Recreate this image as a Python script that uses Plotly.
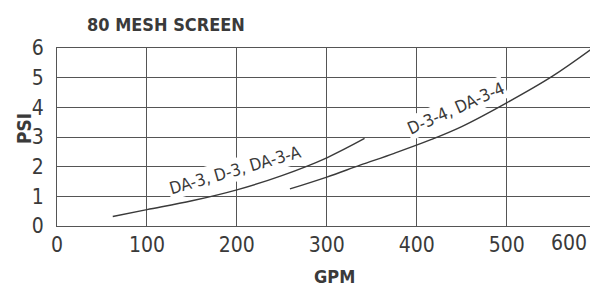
import plotly.graph_objects as go

# data
gpm_a = [62, 100, 150, 200, 250, 300, 342]
psi_a = [0.32, 0.55, 0.85, 1.22, 1.7, 2.3, 2.95]
gpm_b = [259, 300, 337, 375, 415, 450, 500, 551, 596]
psi_b = [1.25, 1.65, 2.05, 2.45, 2.9, 3.35, 4.15, 5.05, 6.0]
x_ticks = [0, 100, 200, 300, 400, 500, 600]
y_ticks = [0, 1, 2, 3, 4, 5, 6]
label_a = "DA-3, D-3, DA-3-A"
label_b = "D-3-4, DA-3-4"

FONT = "DejaVu Sans Condensed, Liberation Sans Narrow, Arial Narrow, sans-serif"
INK = "#3a3a3a"
GRID = "#555555"

# page has an 8px body margin: figure is 590x278, plot area 57..593 x 48..226 in page pixels
PW = 593 - 57
PH = 226 - 48

fig = go.Figure()
fig.add_trace(go.Scatter(x=gpm_a, y=psi_a, mode="lines", line=dict(color=INK, width=1.4, shape="spline"),
                         showlegend=False, hoverinfo="skip"))
fig.add_trace(go.Scatter(x=gpm_b, y=psi_b, mode="lines", line=dict(color=INK, width=1.4, shape="spline"),
                         showlegend=False, hoverinfo="skip"))

fig.add_annotation(x=198, y=1.9, text=label_a, showarrow=False, textangle=-16,
                   font=dict(family=FONT, size=17, color=INK), bgcolor="white")
fig.add_annotation(x=444, y=3.97, text=label_b, showarrow=False, textangle=-24,
                   font=dict(family=FONT, size=17, color=INK), bgcolor="white")

# title
fig.add_annotation(x=(166 - 57) / PW, xref="x domain", xanchor="center", y=1.0, yref="y domain",
                   yanchor="middle", yshift=24,
                   text="<b>80 MESH SCREEN</b>", showarrow=False,
                   font=dict(family=FONT, size=18, color=INK))
# axis titles
fig.add_annotation(x=(334 - 57) / PW, xref="x domain", xanchor="center", y=0, yref="y domain",
                   yanchor="middle", yshift=-50,
                   text="<b>GPM</b>", showarrow=False, font=dict(family=FONT, size=18, color=INK))
fig.add_annotation(x=0, xref="x domain", xanchor="center", xshift=-33, y=(226 - 129) / PH, yref="y domain",
                   yanchor="middle",
                   text="<b>PSI</b>", textangle=-90, showarrow=False, font=dict(family=FONT, size=19, color=INK))
# last tick label (at the right edge)
fig.add_annotation(x=1.0, xref="x domain", xanchor="right", xshift=-4, y=0, yref="y domain",
                   yanchor="top", yshift=-3,
                   text=str(x_ticks[-1]), showarrow=False, font=dict(family=FONT, size=21, color=INK))

fig.update_layout(
    width=590, height=278,
    margin=dict(l=49, r=5, t=40, b=60, autoexpand=False),
    paper_bgcolor="white", plot_bgcolor="white",
    font=dict(family=FONT, color=INK),
    xaxis=dict(range=[0, 596], tickvals=x_ticks[:-1], ticktext=[str(v) for v in x_ticks[:-1]],
               showgrid=True, gridcolor=GRID, gridwidth=1, zeroline=False, automargin=False,
               showline=True, linecolor=GRID, linewidth=1.2, mirror=True,
               tickfont=dict(family=FONT, size=21, color=INK), ticks=""),
    yaxis=dict(range=[0, 6], tickvals=y_ticks, ticktext=[str(v) for v in y_ticks],
               showgrid=True, gridcolor=GRID, gridwidth=1.2, zeroline=False, automargin=False,
               showline=True, linecolor=GRID, linewidth=1.2, mirror=True,
               tickfont=dict(family=FONT, size=21, color=INK), ticks="", ticklabelstandoff=8),
)

fig.write_html("out.html")
